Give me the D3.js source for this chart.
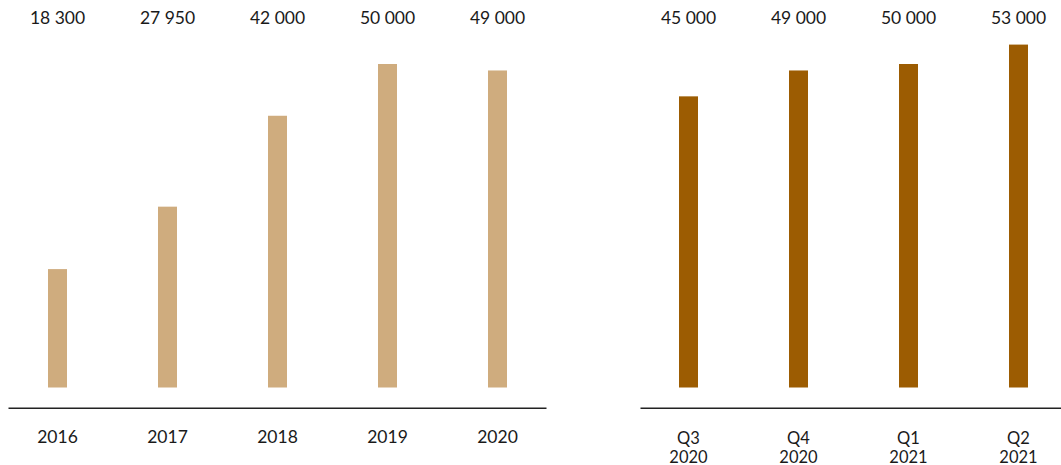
<!DOCTYPE html>
<html>
<head>
<meta charset="utf-8">
<script src="https://cdn.jsdelivr.net/npm/d3@7"></script>
<style>
  html, body { margin: 0; padding: 0; background: #fff; }
  svg { display: block; }
  text { font-family: Lato, "Open Sans", sans-serif; fill: #1a1a1a; }
</style>
</head>
<body>
<svg id="chart" width="1061" height="465"></svg>
<script>
const yearCategories = ["2016", "2017", "2018", "2019", "2020"];
const yearValues = [18300, 27950, 42000, 50000, 49000];
const yearLabels = ["18 300", "27 950", "42 000", "50 000", "49 000"];

const quarterCategories = ["Q3 2020", "Q4 2020", "Q1 2021", "Q2 2021"];
const quarterValues = [45000, 49000, 50000, 53000];
const quarterLabels = ["45 000", "49 000", "50 000", "53 000"];

const svg = d3.select("#chart");
const baseY = 387.5;
const y = d3.scaleLinear().domain([0, 50000]).range([baseY, 64]);
const barW = 19;

function panel(cats, vals, labels, xRange, axisRange, color) {
  const x = d3.scalePoint().domain(cats).range(xRange);
  const g = svg.append("g");
  g.selectAll("rect").data(vals).join("rect")
    .attr("x", (d, i) => x(cats[i]) - barW / 2)
    .attr("width", barW)
    .attr("y", d => y(d))
    .attr("height", d => baseY - y(d))
    .attr("fill", color);
  g.selectAll("text.val").data(labels).join("text")
    .attr("class", "val")
    .attr("x", (d, i) => x(cats[i]))
    .attr("y", 24)
    .attr("text-anchor", "middle")
    .style("font-size", "17.5px")
    .text(d => d);
  const axisScale = d3.scaleLinear().domain([0, 1]).range(axisRange);
  const axis = d3.axisBottom(axisScale).ticks(0).tickSize(0).tickFormat("");
  const ag = g.append("g").attr("transform", "translate(0,407.7)").call(axis);
  ag.select(".domain").attr("stroke", "#222").attr("stroke-width", 1.4);
  cats.forEach((c, i) => {
    const parts = c.split(" ");
    const multi = parts.length > 1;
    const t = g.append("text")
      .attr("x", x(c))
      .attr("y", multi ? 443.5 : 443)
      .attr("text-anchor", "middle")
      .style("font-size", multi ? "16.5px" : "17.5px");
    parts.forEach((p, j) => {
      t.append("tspan").attr("x", x(c)).attr("dy", j === 0 ? 0 : 19).text(p);
    });
  });
}

panel(yearCategories, yearValues, yearLabels, [57.5, 497.5], [8, 546], "#cfac7e");
panel(quarterCategories, quarterValues, quarterLabels, [688.5, 1018.5], [640, 1061], "#9c5c02");
</script>
</body>
</html>
